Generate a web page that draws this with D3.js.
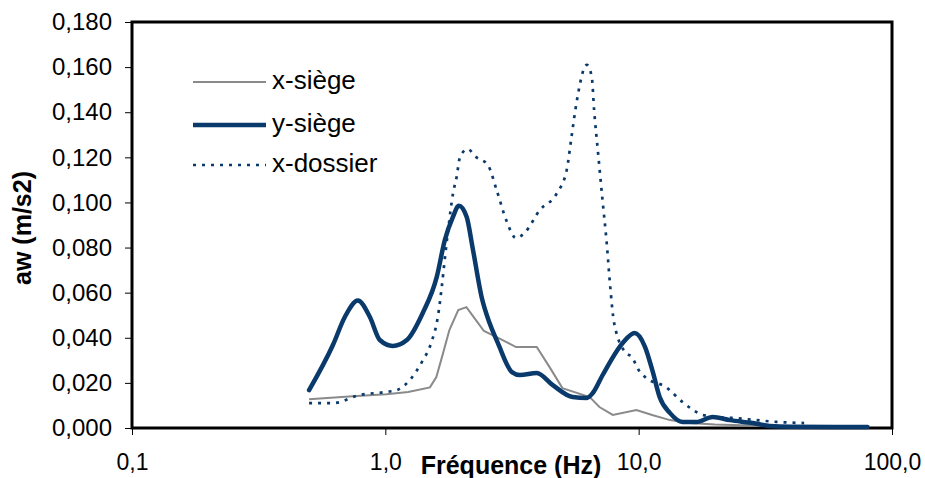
<!DOCTYPE html>
<html>
<head>
<meta charset="utf-8">
<script src="https://cdn.jsdelivr.net/npm/d3@7"></script>
<style>
  html, body { margin: 0; padding: 0; background: #fff; }
  svg { display: block; font-family: "Liberation Sans", Arial, sans-serif; }
</style>
</head>
<body>
<svg id="chart" width="925" height="478"></svg>
<script>
// ---- Data ----
const xTickValues = [0.1, 1, 10, 100];
const xTickLabels = ["0,1", "1,0", "10,0", "100,0"];
const yTickValues = [0, 0.02, 0.04, 0.06, 0.08, 0.10, 0.12, 0.14, 0.16, 0.18];
const yTickLabels = ["0,000", "0,020", "0,040", "0,060", "0,080", "0,100", "0,120", "0,140", "0,160", "0,180"];
const seriesNames = ["x-siège", "y-siège", "x-dossier"];

const xSiegeFreq = [0.5, 0.77, 1.01, 1.23, 1.5, 1.59, 1.69, 1.79, 1.94, 2.09, 2.29, 2.45, 2.75, 3.28, 3.96, 4.45, 5.0, 6.41, 7.0, 7.9, 9.8, 11.3, 13.3, 15.9, 20, 30, 45, 63];
const xSiegeVal  = [0.0128, 0.0142, 0.015, 0.016, 0.018, 0.0226, 0.0332, 0.0434, 0.0523, 0.0536, 0.0475, 0.0430, 0.0403, 0.0359, 0.0359, 0.027, 0.0177, 0.0137, 0.0093, 0.0058, 0.008, 0.0058, 0.0035, 0.0022, 0.0015, 0.001, 0.0008, 0.0008];

const ySiegeFreq = [0.5, 0.621, 0.692, 0.779, 0.869, 0.951, 1.07, 1.216, 1.405, 1.596, 1.717, 1.847, 1.95, 2.095, 2.21, 2.40, 2.58, 2.78, 3.16, 3.40, 3.96, 4.58, 5.49, 6.24, 6.59, 7.21, 8.65, 9.64, 10.6, 11.4, 12.1, 13.3, 14.9, 16.9, 19.6, 22.9, 28.2, 32.9, 40, 60, 80];
const ySiegeVal  = [0.0168, 0.0368, 0.0492, 0.0565, 0.0492, 0.039, 0.0364, 0.039, 0.051, 0.067, 0.0833, 0.0935, 0.0985, 0.0935, 0.080, 0.058, 0.0465, 0.0377, 0.0248, 0.0235, 0.0244, 0.019, 0.0137, 0.0133, 0.0155, 0.0235, 0.0377, 0.0421, 0.0359, 0.0244, 0.0137, 0.0066, 0.0027, 0.0027, 0.0049, 0.0035, 0.0022, 0.0009, 0.0005, 0.0004, 0.0004];

const xDossierFreq = [0.5, 0.621, 0.79, 1.01, 1.11, 1.25, 1.39, 1.52, 1.61, 1.67, 1.72, 1.77, 1.85, 1.91, 1.97, 2.11, 2.29, 2.54, 2.75, 3.0, 3.28, 3.54, 4.07, 4.75, 5.2, 5.43, 5.68, 6.24, 6.53, 6.67, 6.9, 7.2, 7.48, 7.7, 8.0, 8.9, 9.4, 10.0, 10.7, 12.8, 14.9, 17.9, 20.2, 24.2, 29.1, 35, 45];
const xDossierVal  = [0.011, 0.011, 0.0146, 0.016, 0.0168, 0.0213, 0.029, 0.038, 0.049, 0.0625, 0.0758, 0.0878, 0.104, 0.111, 0.120, 0.1237, 0.120, 0.1166, 0.1055, 0.0922, 0.0842, 0.0864, 0.0966, 0.104, 0.1144, 0.129, 0.144, 0.161, 0.1556, 0.141, 0.123, 0.101, 0.082, 0.0643, 0.0466, 0.0333, 0.0315, 0.0257, 0.0222, 0.0182, 0.0115, 0.0058, 0.0049, 0.0044, 0.0035, 0.0027, 0.0022];

// ---- Layout ----
const svg = d3.select("#chart");
const pLeft = 132, pRight = 892, pTop = 22, pBottom = 428;
const x = d3.scaleLog().domain([0.1, 100]).range([pLeft, pRight]);
const y = d3.scaleLinear().domain([0, 0.18]).range([pBottom, pTop]);

const navy = "#0a3a6b";
const gray = "#8a8a8a";

// axes
const yAxis = d3.axisLeft(y).tickValues(yTickValues)
  .tickFormat((d, i) => yTickLabels[i]).tickSize(7).tickPadding(13);
const gy = svg.append("g").attr("transform", `translate(${pLeft},0)`).call(yAxis);
gy.select(".domain").remove();
gy.selectAll("line").attr("stroke", "#000").attr("stroke-width", 1);
gy.selectAll("text").attr("font-size", 24).attr("fill", "#000")
  .attr("font-family", "Liberation Sans, Arial, sans-serif");

const xAxis = d3.axisBottom(x).tickValues(xTickValues)
  .tickFormat((d, i) => xTickLabels[i]).tickSize(7).tickPadding(19);
const gx = svg.append("g").attr("transform", `translate(0,${pBottom})`).call(xAxis);
gx.select(".domain").remove();
gx.selectAll("line").attr("stroke", "#000").attr("stroke-width", 1);
gx.selectAll("text").attr("font-size", 23).attr("fill", "#000")
  .attr("font-family", "Liberation Sans, Arial, sans-serif");

// frame
svg.append("rect").attr("x", pLeft).attr("y", pTop)
  .attr("width", pRight - pLeft).attr("height", pBottom - pTop)
  .attr("fill", "none").attr("stroke", "#000").attr("stroke-width", 3);

// lines
const mk = (fr, vals) => fr.map((f, i) => [f, vals[i]]);
const lineSmooth = d3.line().x(d => x(d[0])).y(d => y(d[1])).curve(d3.curveMonotoneX);
const lineLin = d3.line().x(d => x(d[0])).y(d => y(d[1]));

svg.append("path").attr("d", lineLin(mk(xSiegeFreq, xSiegeVal)))
  .attr("fill", "none").attr("stroke", gray).attr("stroke-width", 2);
svg.append("path").attr("d", lineSmooth(mk(xDossierFreq, xDossierVal)))
  .attr("fill", "none").attr("stroke", navy).attr("stroke-width", 2.7)
  .attr("stroke-dasharray", "3,6");
svg.append("path").attr("d", lineSmooth(mk(ySiegeFreq, ySiegeVal)))
  .attr("fill", "none").attr("stroke", navy).attr("stroke-width", 4.5)
  .attr("stroke-linecap", "round").attr("stroke-linejoin", "round");

// titles
svg.append("text").attr("x", 511).attr("y", 474).attr("text-anchor", "middle")
  .attr("font-size", 25).attr("font-weight", "bold")
  .text("Fréquence (Hz)");
svg.append("text").attr("transform", "translate(31,228) rotate(-90)")
  .attr("text-anchor", "middle").attr("font-size", 25).attr("font-weight", "bold")
  .text("aw (m/s2)");

// legend
const legY = [82, 125, 165];
const legStyles = [
  {stroke: gray, w: 2, dash: null},
  {stroke: navy, w: 4.5, dash: null},
  {stroke: navy, w: 2.7, dash: "3,6"}
];
seriesNames.forEach((n, i) => {
  svg.append("line").attr("x1", 193).attr("x2", 266).attr("y1", legY[i]).attr("y2", legY[i])
    .attr("stroke", legStyles[i].stroke).attr("stroke-width", legStyles[i].w)
    .attr("stroke-dasharray", legStyles[i].dash);
  svg.append("text").attr("x", 272).attr("y", legY[i] + 7).attr("font-size", 26)
    .text(n);
});
</script>
</body>
</html>
